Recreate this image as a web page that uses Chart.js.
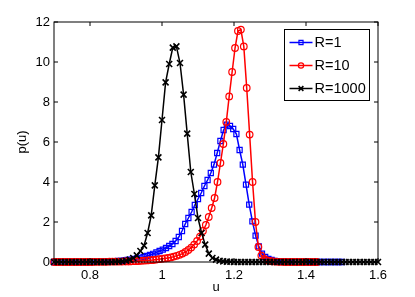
<!DOCTYPE html>
<html>
<head>
<meta charset="utf-8">
<script src="https://cdn.jsdelivr.net/npm/chart.js@4.4.1/dist/chart.umd.min.js"></script>
<style>
  html, body { margin: 0; padding: 0; background: #fff; }
  canvas { display: block; }
</style>
</head>
<body>
<canvas id="chart" width="415" height="297"></canvas>
<script>
// ---------- Data ----------
const seriesLabels = ["R=1", "R=10", "R=1000"];

// u range covered by each series (samples are evenly spaced inside it)
const uRangeR1 = [0.70, 1.50];
const uRangeR10 = [0.70, 1.43];
const uRangeR1000 = [0.70, 1.60];

const pR1 = [
  0, 0, 0, 0, 0, 0, 0, 0, 0, 0,
  0, 0, 0.01, 0.01, 0.01, 0.02, 0.02, 0.03, 0.03, 0.04,
  0.05, 0.06, 0.08, 0.1, 0.12, 0.15, 0.18, 0.21, 0.25, 0.3,
  0.35, 0.41, 0.48, 0.55, 0.62, 0.7, 0.8, 0.9, 1.05, 1.25,
  1.55, 1.9, 2.2, 2.5, 2.85, 3.15, 3.45, 3.8, 4.1, 4.45,
  4.87, 5.45, 6.05, 6.6, 6.87, 6.8, 6.65, 6.4, 5.6, 4.87,
  3.87, 2.87, 2.03, 1.32, 0.78, 0.42, 0.25, 0.15, 0.1, 0.06,
  0.04, 0.03, 0.02, 0.01, 0.01, 0, 0, 0, 0, 0,
  0, 0, 0, 0, 0, 0, 0, 0, 0, 0,
  0
];

const pR10 = [
  0, 0, 0, 0, 0, 0, 0, 0, 0, 0,
  0, 0, 0, 0, 0.01, 0.01, 0.01, 0.01, 0.01, 0.02,
  0.02, 0.02, 0.02, 0.02, 0.03, 0.03, 0.03, 0.04, 0.04, 0.05,
  0.06, 0.07, 0.08, 0.09, 0.1, 0.12, 0.14, 0.16, 0.18, 0.2,
  0.23, 0.27, 0.31, 0.36, 0.42, 0.5, 0.6, 0.72, 0.87, 1.05,
  1.27, 1.55, 1.85, 2.25, 2.7, 3.2, 4.0, 4.95, 5.9, 7.0,
  8.28, 9.5, 10.7, 11.55, 11.62, 10.78, 8.7, 6.37, 4.0, 2.0,
  0.75, 0.32, 0.15, 0.08, 0.05, 0.03, 0.02, 0.01, 0.01, 0,
  0, 0, 0, 0, 0, 0, 0, 0, 0, 0,
  0
];

const pR1000 = [
  0, 0, 0, 0, 0, 0, 0, 0, 0, 0,
  0, 0, 0, 0, 0, 0, 0, 0.01, 0.02, 0.03,
  0.06, 0.12, 0.2, 0.33, 0.55, 0.82, 1.45, 2.33, 3.83, 5.23,
  7.1, 8.98, 9.9, 10.72, 10.78, 9.95, 8.37, 6.42, 4.5, 3.4,
  2.2, 1.45, 0.87, 0.42, 0.2, 0.12, 0.06, 0.03, 0.02, 0.01,
  0, 0, 0, 0, 0, 0, 0, 0, 0, 0,
  0, 0, 0, 0, 0, 0, 0, 0, 0, 0,
  0, 0, 0, 0, 0, 0, 0, 0, 0, 0,
  0, 0, 0, 0, 0, 0, 0, 0, 0, 0,
  0
];

const xTicks = [0.8, 1, 1.2, 1.4, 1.6];
const yTicks = [0, 2, 4, 6, 8, 10, 12];

const FONT = "'Liberation Sans', Arial, Helvetica, sans-serif";

function toPoints(range, values) {
  const step = (range[1] - range[0]) / (values.length - 1);
  return values.map((p, i) => ({ x: range[0] + i * step, y: p }));
}

// ---------- Marker helper (legend) ----------
function drawMarker(ctx, style, x, y, r) {
  ctx.beginPath();
  if (style === 'rect') {
    const s = r * Math.SQRT1_2;
    ctx.rect(x - s, y - s, 2 * s, 2 * s);
  } else if (style === 'circle') {
    ctx.arc(x, y, r, 0, Math.PI * 2);
  } else {
    const d = r * Math.SQRT1_2;
    ctx.moveTo(x - d, y - d); ctx.lineTo(x + d, y + d);
    ctx.moveTo(x - d, y + d); ctx.lineTo(x + d, y - d);
  }
  ctx.stroke();
}

// ---------- Axes box with inward ticks ----------
const framePlugin = {
  id: 'frame',
  afterDatasetsDraw(chart) {
    const { ctx, chartArea: a, scales } = chart;
    const tl = 4;
    ctx.save();
    ctx.strokeStyle = '#000';
    ctx.lineWidth = 1;
    ctx.strokeRect(a.left, a.top, a.right - a.left, a.bottom - a.top);
    ctx.beginPath();
    xTicks.forEach(v => {
      const px = Math.round(scales.x.getPixelForValue(v));
      ctx.moveTo(px, a.bottom); ctx.lineTo(px, a.bottom - tl);
      ctx.moveTo(px, a.top); ctx.lineTo(px, a.top + tl);
    });
    yTicks.forEach(v => {
      const py = Math.round(scales.y.getPixelForValue(v));
      ctx.moveTo(a.left, py); ctx.lineTo(a.left + tl, py);
      ctx.moveTo(a.right, py); ctx.lineTo(a.right - tl, py);
    });
    ctx.stroke();
    ctx.restore();
  }
};

// ---------- Boxed legend inside the plot ----------
const legendPlugin = {
  id: 'boxLegend',
  afterDraw(chart) {
    const { ctx, chartArea: a } = chart;
    const left = a.right - 93.5, top = a.top + 7.5, w = 85, h = 71;
    ctx.save();
    ctx.fillStyle = '#fff';
    ctx.fillRect(left, top, w, h);
    ctx.strokeStyle = '#000';
    ctx.lineWidth = 1;
    ctx.strokeRect(left, top, w, h);
    chart.data.datasets.forEach((ds, i) => {
      const y = top + 13 + i * 23;
      ctx.strokeStyle = ds.borderColor;
      ctx.lineWidth = ds.borderWidth;
      ctx.beginPath();
      ctx.moveTo(left + 5, y); ctx.lineTo(left + 28, y);
      ctx.stroke();
      ctx.lineWidth = ds.pointBorderWidth;
      drawMarker(ctx, ds.pointStyle, left + 16.5, y, ds.pointRadius * 0.8);
      ctx.fillStyle = '#000';
      ctx.font = '14.5px ' + FONT;
      ctx.textBaseline = 'middle';
      ctx.fillText(ds.label, left + 30, y + 0.5);
    });
    ctx.restore();
  }
};

new Chart(document.getElementById('chart'), {
  type: 'line',
  data: {
    datasets: [
      {
        label: seriesLabels[0],
        data: toPoints(uRangeR1, pR1),
        borderColor: '#0000ff',
        pointBorderColor: '#0000ff',
        pointBackgroundColor: 'rgba(0,0,0,0)',
        pointStyle: 'rect',
        pointRadius: 3.6,
        pointBorderWidth: 1.2,
        borderWidth: 1.5,
        order: 3
      },
      {
        label: seriesLabels[1],
        data: toPoints(uRangeR10, pR10),
        borderColor: '#ff0000',
        pointBorderColor: '#ff0000',
        pointBackgroundColor: 'rgba(0,0,0,0)',
        pointStyle: 'circle',
        pointRadius: 3.3,
        pointBorderWidth: 1.2,
        borderWidth: 1.5,
        order: 2
      },
      {
        label: seriesLabels[2],
        data: toPoints(uRangeR1000, pR1000),
        borderColor: '#000000',
        pointBorderColor: '#000000',
        pointBackgroundColor: 'rgba(0,0,0,0)',
        pointStyle: 'crossRot',
        pointRadius: 4.2,
        pointBorderWidth: 1.6,
        borderWidth: 1.5,
        order: 1
      }
    ]
  },
  options: {
    responsive: false,
    animation: false,
    layout: { padding: { top: 22, right: 37, left: 0, bottom: 0 } },
    elements: { line: { tension: 0, fill: false } },
    datasets: { line: { clip: false } },
    plugins: {
      legend: { display: false },
      tooltip: { enabled: false }
    },
    scales: {
      x: {
        type: 'linear',
        min: 0.7,
        max: 1.6,
        afterBuildTicks: s => { s.ticks = xTicks.map(v => ({ value: v })); },
        afterFit: s => { s.height = 35; },
        grid: { display: false, drawTicks: false },
        border: { display: false },
        ticks: {
          color: '#000',
          font: { family: FONT, size: 13 },
          padding: 6,
          maxRotation: 0,
          autoSkip: false,
          callback: v => String(v)
        },
        title: {
          display: true,
          text: 'u',
          color: '#000',
          font: { family: FONT, size: 13 },
          padding: { top: 0, bottom: 2 }
        }
      },
      y: {
        min: 0,
        max: 12,
        afterBuildTicks: s => { s.ticks = yTicks.map(v => ({ value: v })); },
        afterFit: s => { s.width = 54; },
        grid: { display: false, drawTicks: false },
        border: { display: false },
        ticks: {
          color: '#000',
          font: { family: FONT, size: 13 },
          padding: 4,
          autoSkip: false,
          callback: v => String(v)
        },
        title: {
          display: true,
          text: 'p(u)',
          color: '#000',
          font: { family: FONT, size: 13 },
          padding: { top: 15, bottom: 0 }
        }
      }
    }
  },
  plugins: [framePlugin, legendPlugin]
});
</script>
</body>
</html>
